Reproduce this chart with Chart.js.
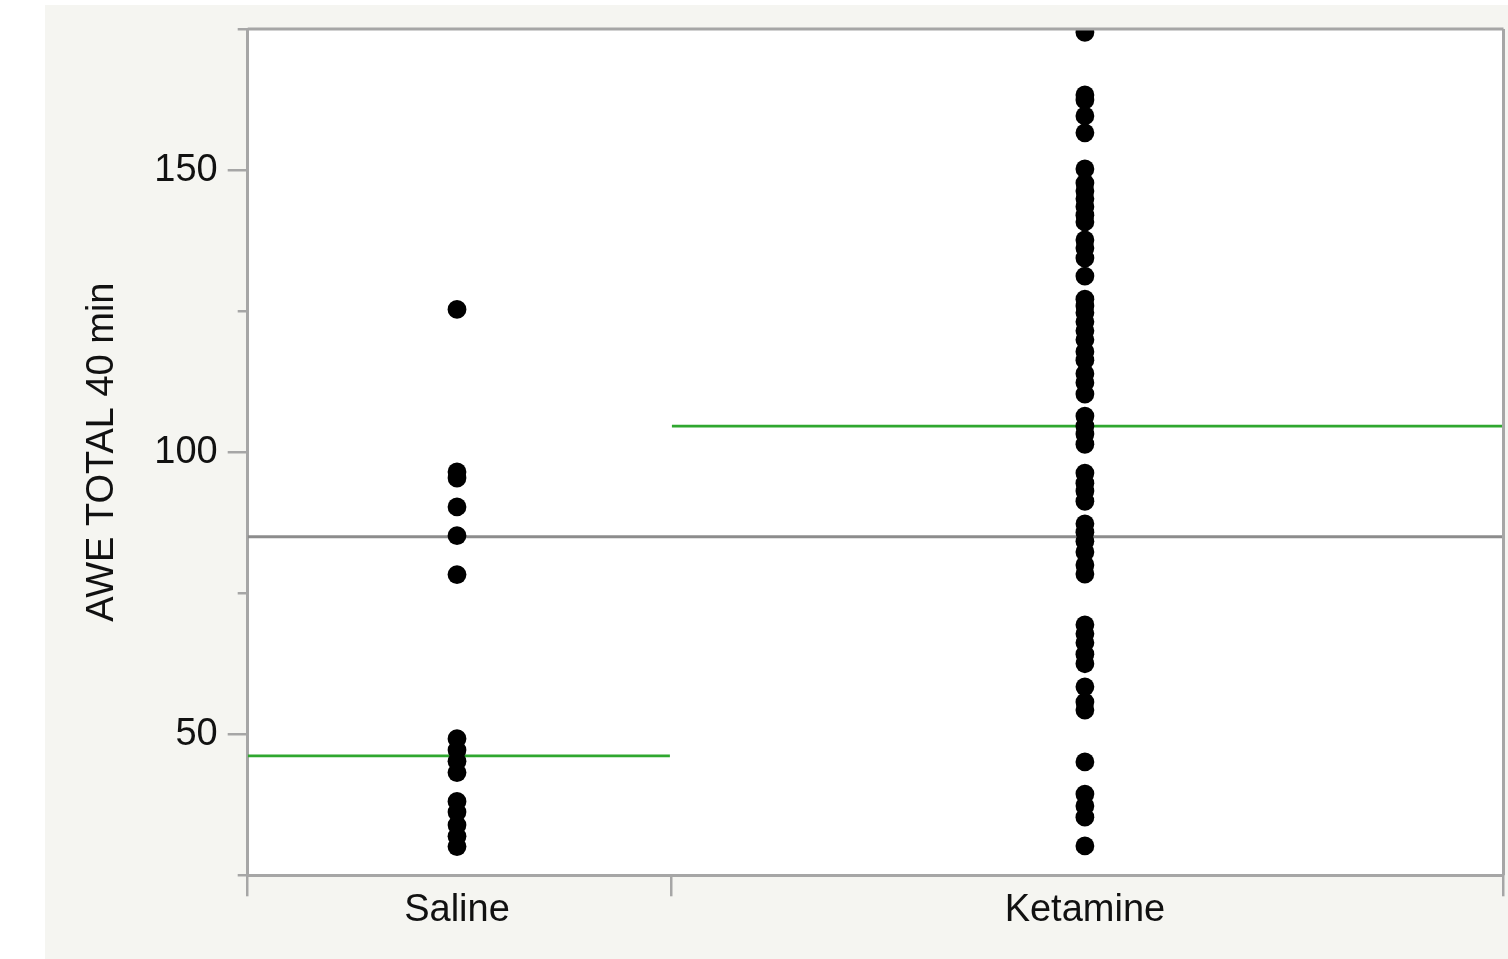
<!DOCTYPE html>
<html>
<head>
<meta charset="utf-8">
<script src="https://cdn.jsdelivr.net/npm/chart.js@4.4.1/dist/chart.umd.min.js"></script>
<style>
  html, body { margin: 0; padding: 0; background: #ffffff; }
  #panel { position: absolute; left: 45px; top: 5px; width: 1463px; height: 954px; background: #f5f5f1; }
  #wrap { position: absolute; left: 0; top: 0; width: 1508px; height: 959px; }
</style>
</head>
<body>
<div id="panel"></div>
<div id="wrap"><canvas id="c" width="1508" height="959"></canvas></div>
<script>
// Groups and observations
const categories = ['Saline', 'Ketamine'];
const salineValues = [125.3, 96.5, 95.4, 90.3, 85.2, 78.3, 49.2, 47.2, 45.2, 43.2, 38.1, 36.2, 33.9, 31.9, 30.1];
const ketamineValues = [
  174.4, 163.3, 162.4, 159.6, 156.6,
  150.2, 147.7, 146.3, 144.9, 143.5, 142.0, 140.8, 137.6, 136.2, 134.4, 131.2,
  127.1, 125.9, 124.7, 123.1, 121.5, 119.9, 117.8, 116.3, 113.9, 112.3, 110.3,
  106.4, 104.6, 103.2, 101.4,
  96.3, 94.5, 93.1, 91.3,
  87.3, 85.8, 84.2, 82.3, 80.0, 78.4,
  69.4, 67.8, 66.2, 64.2, 62.5,
  58.4, 55.7, 54.3,
  45.1,
  39.4, 37.3, 35.3,
  30.2
];
// Group centre lines and the overall line
const groupLineValues = [46.15, 104.6];
const overallLineValue = 85.0;

// Axis ticks
const yMajorTicks = [50, 100, 150];
const yMinorTicks = [25, 75, 125, 175];
const yMin = 25, yMax = 175;

// Horizontal layout of the groups on a 0..1 axis
const groupBounds = [0, 0.337, 1];
const groupCenters = [1 / 6, 2 / 3];
const lineGap = 0.0008;

const FONT = "'Liberation Sans', Arial, Helvetica, sans-serif";
const AXIS_GREY = '#a6a6a6';
const TEXT = '#111111';
const GREEN = '#2fa72f';

const frame = {
  id: 'frame',
  beforeDraw(chart) {
    const { ctx, chartArea: a } = chart;
    ctx.save();
    ctx.fillStyle = '#ffffff';
    ctx.fillRect(a.left, a.top, a.right - a.left, a.bottom - a.top);
    ctx.restore();
  },
  afterDatasetsDraw(chart) {
    const { ctx, chartArea: a } = chart;
    ctx.save();
    ctx.strokeStyle = AXIS_GREY;
    ctx.lineWidth = 3;
    ctx.beginPath();
    ctx.moveTo(a.left, a.top);
    ctx.lineTo(a.right, a.top);
    ctx.moveTo(a.right, a.top);
    ctx.lineTo(a.right, a.bottom);
    ctx.stroke();
    ctx.restore();
  }
};

// Keep tick-label overhang from pushing the plot area inwards
const noPad = s => { s.paddingTop = 0; s.paddingBottom = 0; s.paddingLeft = 0; s.paddingRight = 0; };

const pointsOf = (values, cx) => values.map(v => ({ x: cx, y: v }));

new Chart(document.getElementById('c'), {
  type: 'scatter',
  data: {
    datasets: [
      {
        type: 'line',
        data: [{ x: groupBounds[0], y: overallLineValue }, { x: groupBounds[2], y: overallLineValue }],
        borderColor: '#8c8c8c', borderWidth: 3, pointRadius: 0, fill: false, order: 3,
        xAxisID: 'x', yAxisID: 'y'
      },
      {
        type: 'line',
        data: [{ x: groupBounds[0], y: groupLineValues[0] }, { x: groupBounds[1] - lineGap, y: groupLineValues[0] }],
        borderColor: GREEN, borderWidth: 2.7, pointRadius: 0, fill: false, order: 2,
        xAxisID: 'x', yAxisID: 'y'
      },
      {
        type: 'line',
        data: [{ x: groupBounds[1] + lineGap, y: groupLineValues[1] }, { x: groupBounds[2], y: groupLineValues[1] }],
        borderColor: GREEN, borderWidth: 2.7, pointRadius: 0, fill: false, order: 2,
        xAxisID: 'x', yAxisID: 'y'
      },
      {
        label: categories[0],
        data: pointsOf(salineValues, groupCenters[0]),
        backgroundColor: '#000000', borderColor: '#000000', borderWidth: 0,
        pointRadius: 9.4, pointHoverRadius: 9.4, order: 0, clip: 0,
        xAxisID: 'x', yAxisID: 'y'
      },
      {
        label: categories[1],
        data: pointsOf(ketamineValues, groupCenters[1]),
        backgroundColor: '#000000', borderColor: '#000000', borderWidth: 0,
        pointRadius: 9.4, pointHoverRadius: 9.4, order: 0, clip: 0,
        xAxisID: 'x', yAxisID: 'y'
      }
    ]
  },
  options: {
    responsive: false,
    animation: false,
    events: [],
    layout: { autoPadding: false, padding: { left: 0, top: 29, right: 4.5, bottom: 0 } },
    plugins: { legend: { display: false }, tooltip: { enabled: false } },
    scales: {
      y: {
        type: 'linear', position: 'left', min: yMin, max: yMax, weight: 1,
        afterBuildTicks: s => { s.ticks = yMajorTicks.map(v => ({ value: v })); },
        afterFit: s => { s.width = 247.7; noPad(s); },
        grid: { drawOnChartArea: false, drawTicks: true, tickLength: 20, color: AXIS_GREY, lineWidth: 2.5 },
        border: { display: true, color: AXIS_GREY, width: 3 },
        ticks: { font: { family: FONT, size: 38 }, color: TEXT, padding: 10 },
        title: {
          display: true, text: 'AWE TOTAL 40 min', color: TEXT,
          font: { family: FONT, size: 38 }, padding: { top: 80, bottom: 0 }
        }
      },
      yMinor: {
        type: 'linear', position: 'left', min: yMin, max: yMax, weight: 0,
        afterBuildTicks: s => { s.ticks = yMinorTicks.map(v => ({ value: v })); },
        afterFit: s => { s.width = 0; noPad(s); },
        grid: { drawOnChartArea: false, drawTicks: true, tickLength: 10, color: AXIS_GREY, lineWidth: 2.5 },
        border: { display: false },
        ticks: { display: false }
      },
      x: {
        type: 'linear', position: 'bottom', min: 0, max: 1, weight: 0,
        afterBuildTicks: s => { s.ticks = groupBounds.map(v => ({ value: v })); },
        afterFit: s => { s.height = 0; noPad(s); },
        grid: { drawOnChartArea: false, drawTicks: true, tickLength: 21, color: AXIS_GREY, lineWidth: 2.5 },
        border: { display: true, color: AXIS_GREY, width: 3 },
        ticks: { display: false }
      },
      xCat: {
        type: 'linear', position: 'bottom', min: 0, max: 1, weight: 1,
        afterBuildTicks: s => { s.ticks = groupCenters.map(v => ({ value: v })); },
        afterFit: s => { s.height = 83.7; noPad(s); },
        grid: { display: false, drawTicks: false },
        border: { display: false },
        ticks: {
          callback: (v, i) => categories[i],
          font: { family: FONT, size: 38 }, color: TEXT, padding: 12,
          maxRotation: 0, minRotation: 0, autoSkip: false
        }
      }
    }
  },
  plugins: [frame]
});
</script>
</body>
</html>
